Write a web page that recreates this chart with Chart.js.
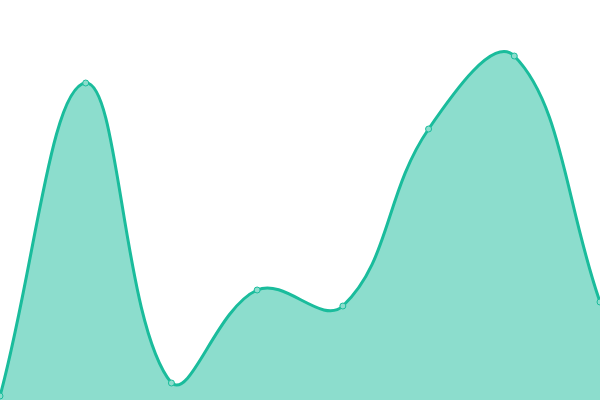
<!DOCTYPE html>
<html>
<head>
<meta charset="utf-8">
<script src="https://cdn.jsdelivr.net/npm/chart.js@4/dist/chart.umd.min.js"></script>
<style>
  html, body { margin: 0; padding: 0; background: #fff; }
  #wrap { width: 600px; height: 400px; }
</style>
</head>
<body>
<div id="wrap"><canvas id="areaChart"></canvas></div>
<script>
// データ
const labels = ['1', '2', '3', '4', '5', '6', '7', '8'];
const values = [4, 317, 17, 110, 94, 271, 344, 98];
const yMin = 0;
const yMax = 400;

const ctx = document.getElementById('areaChart').getContext('2d');
new Chart(ctx, {
  type: 'line',
  data: {
    labels: labels,
    datasets: [{
      data: values,
      borderColor: '#1abc9c',
      backgroundColor: 'rgba(26, 188, 156, 0.5)',
      pointBackgroundColor: 'rgba(140, 221, 205, 1)',
      pointBorderColor: '#1abc9c',
      pointRadius: 3,
      pointBorderWidth: 1,
      borderWidth: 3,
      tension: 0.4,
      fill: 'origin'
    }]
  },
  options: {
    responsive: true,
    maintainAspectRatio: false,
    animation: false,
    layout: { padding: 0, autoPadding: false },
    plugins: { legend: { display: false }, tooltip: { enabled: false } },
    scales: {
      x: { display: false },
      y: { display: false, min: yMin, max: yMax }
    }
  }
});
</script>
</body>
</html>
